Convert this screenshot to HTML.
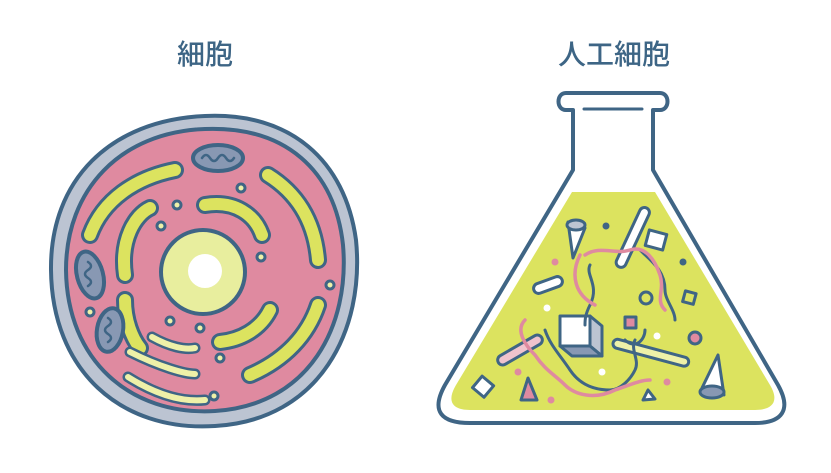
<!DOCTYPE html>
<html><head><meta charset="utf-8"><style>
html,body{margin:0;padding:0;background:#fff;}
svg{display:block;}
text{font-family:"Liberation Sans","Noto Sans CJK JP",sans-serif;font-weight:500;fill:#3d6585;}
</style></head><body>
<svg width="831" height="473" viewBox="0 0 831 473" xmlns="http://www.w3.org/2000/svg">
<text x="205" y="64" font-size="28" text-anchor="middle">細胞</text>
<text x="614" y="64" font-size="28" text-anchor="middle">人工細胞</text>

<g stroke="#3f6585" stroke-width="4" stroke-linecap="round" stroke-linejoin="round">
<!-- cell -->
<path d="M205,116 C290,112 345,160 356,240 C365,330 320,420 215,426 C120,432 52,370 51,270 C50,180 110,120 205,116 Z" fill="#bcc4d2"/>
<path d="M205,129 C285,126 335,170 343,245 C350,325 310,405 215,411 C130,416 67,360 66,270 C66,190 120,132 205,129 Z" fill="#df8aa0"/>
<!-- ER yellow arcs -->
<g fill="none" stroke-width="18" stroke="#3f6585">
<path d="M90,235 C103,200 135,178 175,170"/>
<path d="M125,275 C120,240 135,215 150,208"/>
<path d="M205,205 C235,200 255,215 262,235"/>
<path d="M268,175 C300,195 315,225 318,260"/>
<path d="M318,305 C308,335 285,360 250,375"/>
<path d="M270,310 C260,330 240,340 220,342"/>
<path d="M125,300 C125,320 132,338 140,348"/>
</g>
<g fill="none" stroke-width="12" stroke="#dce35f">
<path d="M90,235 C103,200 135,178 175,170"/>
<path d="M125,275 C120,240 135,215 150,208"/>
<path d="M205,205 C235,200 255,215 262,235"/>
<path d="M268,175 C300,195 315,225 318,260"/>
<path d="M318,305 C308,335 285,360 250,375"/>
<path d="M270,310 C260,330 240,340 220,342"/>
<path d="M125,300 C125,320 132,338 140,348"/>
</g>
<!-- golgi -->
<g fill="none" stroke-width="11" stroke="#3f6585">
<path d="M130,352 C160,367 185,374 195,374"/>
<path d="M128,377 C160,397 185,402 205,400"/>
<path d="M152,337 C170,347 185,350 195,348"/>
</g>
<g fill="none" stroke-width="6" stroke="#eef1a8">
<path d="M130,352 C160,367 185,374 195,374"/>
<path d="M128,377 C160,397 185,402 205,400"/>
<path d="M152,337 C170,347 185,350 195,348"/>
</g>
<!-- mitochondria -->
<ellipse cx="218" cy="158" rx="25" ry="13" fill="#8898b3"/>
<ellipse cx="90" cy="275" rx="13" ry="24" fill="#8898b3" transform="rotate(-15 90 275)"/>
<ellipse cx="110" cy="330" rx="13" ry="22" fill="#8898b3" transform="rotate(10 110 330)"/>
<g fill="none" stroke-width="2.5">
<path d="M202,158 q4,-6 8,0 t8,0 t8,0 t8,0"/>
<path d="M88,262 q6,4 0,8 t0,8 t0,8"/>
<path d="M108,318 q6,4 0,8 t0,8 t0,8"/>
</g>
<!-- dots -->
<g fill="#eef1a8" stroke-width="3">
<circle cx="241" cy="188" r="4"/><circle cx="177" cy="205" r="4"/><circle cx="161" cy="226" r="4"/>
<circle cx="261" cy="257" r="4"/><circle cx="330" cy="285" r="4"/><circle cx="90" cy="312" r="4"/>
<circle cx="170" cy="321" r="4"/><circle cx="200" cy="328" r="4"/><circle cx="220" cy="358" r="4"/>
<circle cx="214" cy="396" r="4"/>
</g>
<!-- nucleus -->
<circle cx="203" cy="272" r="42" fill="#e8ee9e"/>
<circle cx="205" cy="271" r="17" fill="#fff" stroke="none"/>

<!-- flask -->
<path d="M573,110 L573,170 L445,385 C430,412 442,423 470,423 L755,423 C782,423 792,410 778,385 L653,170 L653,110 L660,110 C670,110 670,93 660,93 L566,93 C556,93 556,110 566,110 Z" fill="#fff" stroke-width="4"/>
<path d="M572,192 L655,192 L770,385 C780,402 772,410 755,410 L470,410 C453,410 446,402 456,385 Z" fill="#dce35f" stroke="none"/>
<line x1="584" y1="109" x2="642" y2="109" stroke-width="3"/>
<!-- contents -->
<g stroke-width="3">
<path d="M568,222 L585,228 L573,258 Z" fill="#fff"/>
<ellipse cx="576" cy="225" rx="9" ry="5" fill="#bcc4d2"/>
<rect x="628" y="205" width="10" height="65" rx="5" fill="#fff" transform="rotate(25 633 237)"/>
<rect x="647" y="232" width="18" height="16" fill="#fff" transform="rotate(15 656 240)"/>
<rect x="533" y="280" width="30" height="10" rx="5" fill="#fff" transform="rotate(-20 548 285)"/>
<circle cx="646" cy="298" r="6" fill="#dce35f"/>
<rect x="684" y="292" width="11" height="11" fill="#dce35f" transform="rotate(15 689 297)"/>
<rect x="625" y="317" width="11" height="11" fill="#df8aa0"/>
<circle cx="695" cy="338" r="6" fill="#df8aa0"/>
<rect x="560" y="316" width="30" height="30" fill="#fff"/>
<path d="M590,316 L602,326 L602,356 L590,346 Z" fill="#bcc4d2"/>
<path d="M560,346 L590,346 L602,356 L572,356 Z" fill="#8898b3"/>
<rect x="495" y="345" width="50" height="10" rx="5" fill="#f0c3cd" transform="rotate(-30 520 350)"/>
<rect x="612" y="348" width="78" height="9" rx="4.5" fill="#eef1a8" transform="rotate(15 650 352)"/>
<rect x="476" y="379" width="15" height="15" fill="#fff" transform="rotate(40 483 386)"/>
<path d="M528,378 L521,400 L537,400 Z" fill="#df8aa0"/>
<path d="M648,390 L655,399 L643,400 Z" fill="#fff"/>
<path d="M718,355 L724,395 L702,388 Z" fill="#fff"/>
<ellipse cx="712" cy="392" rx="12" ry="6" fill="#8898b3"/>
</g>
<g fill="none" stroke-width="3">
<path d="M640,250 c10,10 25,20 25,40 c0,10 10,20 10,30"/>
<path d="M590,265 c-5,10 10,20 0,40 c-5,10 -5,15 -5,20"/>
<path d="M545,330 c5,15 15,25 25,40 c10,15 25,20 40,20 c10,0 20,-10 25,-20 c5,-10 -5,-20 0,-30"/>
<path d="M625,340 c10,10 20,0 20,-10"/>
</g>
<g fill="none" stroke="#df8aa0" stroke-width="3.5">
<path d="M585,255 c15,-10 30,0 45,-5 c15,-5 25,10 30,25 c5,15 -5,25 5,35"/>
<path d="M580,255 c-10,20 -5,40 15,50"/>
<path d="M525,320 c-10,10 0,25 10,35 c10,15 20,20 30,30 c10,10 30,15 50,5 c15,-5 25,-10 35,-10"/>
</g>
<g stroke="none">
<circle cx="606" cy="226" r="3.5" fill="#3f6585"/><circle cx="683" cy="262" r="3.5" fill="#3f6585"/>
<circle cx="555" cy="262" r="3.5" fill="#df8aa0"/><circle cx="547" cy="308" r="3.5" fill="#fff"/>
<circle cx="657" cy="336" r="3.5" fill="#fff"/><circle cx="518" cy="372" r="3.5" fill="#df8aa0"/>
<circle cx="602" cy="372" r="3.5" fill="#fff"/><circle cx="667" cy="382" r="3.5" fill="#df8aa0"/>
<circle cx="551" cy="400" r="3.5" fill="#df8aa0"/>
</g>
</g>
</svg>
</body></html>
